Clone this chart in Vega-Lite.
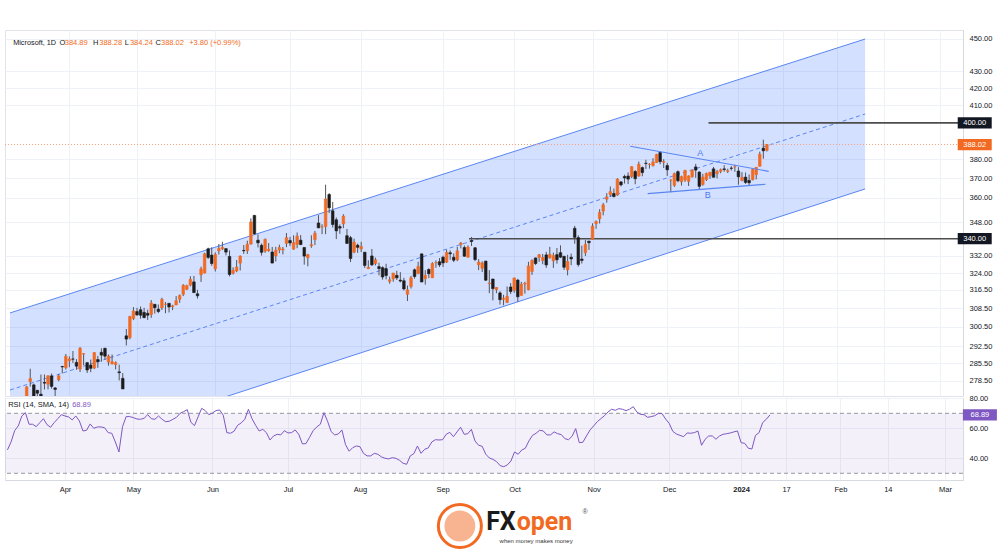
{
"$schema":"https://vega.github.io/schema/vega-lite/v6.json",
"padding":{"left":4,"top":29,"right":0,"bottom":0},
"background":"#ffffff",
"spacing":2,
"bounds":"flush",
"config":{"view":{"stroke":"#e0e3eb"},"axis":{"labelFont":"Liberation Sans","labelFontSize":7.5,"labelColor":"#131722","gridColor":"#eef1f7","domainColor":"#d6d9e0","ticks":false,"title":null,"labelOverlap":false,"labelFlush":false},"text":{"font":"Liberation Sans"}},
"datasets":{
"bars":[
{"d":"2023-03-10","o":251.08,"h":252.79,"l":247.6,"c":248.59,"r":45.6},
{"d":"2023-03-13","o":247.4,"h":257.91,"l":245.73,"c":253.92,"r":50.9},
{"d":"2023-03-14","o":256.75,"h":261.07,"l":255.86,"c":260.79,"r":58.4},
{"d":"2023-03-15","o":259.98,"h":266.48,"l":259.21,"c":265.44,"r":61.6},
{"d":"2023-03-16","o":265.21,"h":276.56,"l":263.28,"c":276.2,"r":68.2},
{"d":"2023-03-17","o":278.26,"h":283.33,"l":276.32,"c":279.43,"r":70.4},
{"d":"2023-03-20","o":276.98,"h":277.48,"l":269.85,"c":272.23,"r":62.7},
{"d":"2023-03-21","o":274.88,"h":275.0,"l":269.52,"c":273.78,"r":62.7},
{"d":"2023-03-22","o":273.4,"h":281.04,"l":272.18,"c":272.29,"r":61.1},
{"d":"2023-03-23","o":277.94,"h":281.06,"l":275.2,"c":277.66,"r":63.8},
{"d":"2023-03-24","o":277.24,"h":280.63,"l":275.28,"c":280.57,"r":66.4},
{"d":"2023-03-27","o":280.5,"h":281.46,"l":275.52,"c":276.38,"r":62.4},
{"d":"2023-03-28","o":275.79,"h":276.14,"l":272.05,"c":275.23,"r":60.7},
{"d":"2023-03-29","o":278.96,"h":281.14,"l":278.41,"c":280.51,"r":63.8},
{"d":"2023-03-30","o":284.23,"h":284.46,"l":281.48,"c":284.05,"r":66.4},
{"d":"2023-03-31","o":283.73,"h":289.27,"l":283.0,"c":288.3,"r":69.1},
{"d":"2023-04-03","o":286.52,"h":288.27,"l":283.95,"c":287.23,"r":68.2},
{"d":"2023-04-04","o":287.23,"h":290.45,"l":285.67,"c":287.18,"r":67.6},
{"d":"2023-04-05","o":285.85,"h":287.15,"l":282.92,"c":284.34,"r":65.6},
{"d":"2023-04-06","o":283.21,"h":292.08,"l":282.03,"c":291.6,"r":68.2},
{"d":"2023-04-10","o":289.21,"h":289.6,"l":284.71,"c":289.39,"r":64.9},
{"d":"2023-04-11","o":285.75,"h":285.98,"l":281.64,"c":282.83,"r":58.2},
{"d":"2023-04-12","o":284.79,"h":287.01,"l":281.96,"c":283.49,"r":58.7},
{"d":"2023-04-13","o":283.59,"h":289.9,"l":283.17,"c":289.84,"r":62.9},
{"d":"2023-04-14","o":287.0,"h":288.48,"l":283.69,"c":286.14,"r":60.0},
{"d":"2023-04-17","o":289.93,"h":291.6,"l":286.16,"c":288.8,"r":60.9},
{"d":"2023-04-18","o":291.57,"h":291.76,"l":287.01,"c":288.37,"r":60.9},
{"d":"2023-04-19","o":285.99,"h":289.05,"l":284.54,"c":288.45,"r":60.4},
{"d":"2023-04-20","o":285.25,"h":289.03,"l":285.08,"c":286.11,"r":57.1},
{"d":"2023-04-21","o":285.01,"h":286.27,"l":283.06,"c":285.76,"r":56.7},
{"d":"2023-04-24","o":282.09,"h":284.95,"l":278.72,"c":281.77,"r":50.9},
{"d":"2023-04-25","o":279.51,"h":281.6,"l":275.37,"c":275.42,"r":44.2},
{"d":"2023-04-26","o":296.7,"h":299.57,"l":292.73,"c":295.37,"r":61.1},
{"d":"2023-04-27","o":295.97,"h":305.2,"l":295.25,"c":304.83,"r":67.8},
{"d":"2023-04-28","o":304.01,"h":308.93,"l":303.31,"c":307.26,"r":67.8},
{"d":"2023-05-01","o":306.97,"h":308.6,"l":305.15,"c":305.56,"r":67.1},
{"d":"2023-05-02","o":307.76,"h":309.18,"l":303.91,"c":305.41,"r":66.2},
{"d":"2023-05-03","o":306.62,"h":308.61,"l":304.09,"c":304.4,"r":66.0},
{"d":"2023-05-04","o":306.24,"h":307.76,"l":303.4,"c":305.41,"r":66.7},
{"d":"2023-05-05","o":305.72,"h":311.97,"l":304.27,"c":310.65,"r":69.1},
{"d":"2023-05-08","o":310.13,"h":310.2,"l":306.09,"c":308.65,"r":66.4},
{"d":"2023-05-09","o":308.0,"h":310.04,"l":306.31,"c":307.0,"r":66.0},
{"d":"2023-05-10","o":308.62,"h":313.0,"l":307.67,"c":312.31,"r":68.2},
{"d":"2023-05-11","o":310.1,"h":311.12,"l":306.26,"c":310.11,"r":66.0},
{"d":"2023-05-12","o":310.55,"h":310.65,"l":306.6,"c":308.97,"r":64.4},
{"d":"2023-05-15","o":309.1,"h":309.9,"l":307.59,"c":309.46,"r":64.7},
{"d":"2023-05-16","o":309.83,"h":313.71,"l":309.83,"c":311.74,"r":66.0},
{"d":"2023-05-17","o":312.29,"h":314.43,"l":310.74,"c":314.0,"r":67.3},
{"d":"2023-05-18","o":314.53,"h":319.04,"l":313.72,"c":318.52,"r":70.0},
{"d":"2023-05-19","o":316.74,"h":318.75,"l":316.37,"c":318.34,"r":71.1},
{"d":"2023-05-22","o":318.6,"h":322.59,"l":318.01,"c":321.18,"r":72.4},
{"d":"2023-05-23","o":320.03,"h":322.72,"l":315.25,"c":315.26,"r":64.0},
{"d":"2023-05-24","o":314.73,"h":316.5,"l":312.61,"c":313.85,"r":61.8},
{"d":"2023-05-25","o":323.24,"h":326.9,"l":320.0,"c":325.92,"r":67.6},
{"d":"2023-05-26","o":324.02,"h":333.4,"l":323.88,"c":332.89,"r":73.3},
{"d":"2023-05-30","o":335.23,"h":335.74,"l":330.52,"c":331.21,"r":71.8},
{"d":"2023-05-31","o":332.29,"h":335.94,"l":327.33,"c":328.39,"r":69.1},
{"d":"2023-06-01","o":325.93,"h":333.53,"l":324.72,"c":332.58,"r":70.2},
{"d":"2023-06-02","o":334.25,"h":337.5,"l":332.55,"c":335.4,"r":71.8},
{"d":"2023-06-05","o":335.22,"h":338.56,"l":334.66,"c":335.94,"r":72.2},
{"d":"2023-06-06","o":335.33,"h":335.37,"l":332.17,"c":333.68,"r":68.7},
{"d":"2023-06-07","o":331.65,"h":334.49,"l":322.5,"c":323.38,"r":57.1},
{"d":"2023-06-08","o":323.94,"h":326.64,"l":323.35,"c":325.26,"r":56.7},
{"d":"2023-06-09","o":324.99,"h":329.99,"l":324.41,"c":326.79,"r":58.0},
{"d":"2023-06-12","o":328.58,"h":332.1,"l":325.16,"c":331.85,"r":62.0},
{"d":"2023-06-13","o":334.47,"h":336.99,"l":332.85,"c":334.29,"r":63.6},
{"d":"2023-06-14","o":334.34,"h":339.04,"l":332.81,"c":337.34,"r":66.0},
{"d":"2023-06-15","o":337.48,"h":349.84,"l":337.2,"c":348.1,"r":72.7},
{"d":"2023-06-16","o":351.32,"h":351.47,"l":341.95,"c":342.33,"r":66.4},
{"d":"2023-06-20","o":339.31,"h":342.08,"l":335.86,"c":338.05,"r":62.0},
{"d":"2023-06-21","o":336.88,"h":337.73,"l":332.07,"c":333.56,"r":58.2},
{"d":"2023-06-22","o":334.12,"h":340.12,"l":333.34,"c":339.71,"r":59.3},
{"d":"2023-06-23","o":334.36,"h":337.93,"l":333.81,"c":335.02,"r":57.1},
{"d":"2023-06-26","o":333.72,"h":336.11,"l":328.49,"c":328.6,"r":52.2},
{"d":"2023-06-27","o":331.86,"h":336.15,"l":329.3,"c":334.57,"r":54.9},
{"d":"2023-06-28","o":334.66,"h":337.2,"l":333.18,"c":335.85,"r":56.0},
{"d":"2023-06-29","o":334.71,"h":336.11,"l":332.62,"c":335.05,"r":55.6},
{"d":"2023-06-30","o":337.75,"h":342.73,"l":336.01,"c":340.54,"r":58.4},
{"d":"2023-07-03","o":339.19,"h":340.9,"l":336.57,"c":337.99,"r":56.9},
{"d":"2023-07-05","o":335.09,"h":341.65,"l":334.73,"c":338.15,"r":57.1},
{"d":"2023-07-06","o":337.3,"h":342.99,"l":335.5,"c":341.27,"r":58.9},
{"d":"2023-07-07","o":339.32,"h":341.79,"l":337.0,"c":337.22,"r":56.0},
{"d":"2023-07-10","o":335.86,"h":335.9,"l":327.87,"c":331.83,"r":49.6},
{"d":"2023-07-11","o":331.06,"h":332.85,"l":327.1,"c":332.47,"r":49.8},
{"d":"2023-07-12","o":336.6,"h":341.65,"l":335.67,"c":337.2,"r":54.0},
{"d":"2023-07-13","o":339.56,"h":343.74,"l":337.0,"c":342.66,"r":58.4},
{"d":"2023-07-14","o":347.59,"h":351.43,"l":345.09,"c":345.24,"r":60.9},
{"d":"2023-07-17","o":345.68,"h":346.99,"l":342.2,"c":345.73,"r":62.7},
{"d":"2023-07-18","o":345.83,"h":366.78,"l":342.17,"c":359.49,"r":70.4},
{"d":"2023-07-19","o":361.75,"h":362.46,"l":352.44,"c":355.08,"r":64.7},
{"d":"2023-07-20","o":353.57,"h":357.97,"l":345.37,"c":346.87,"r":57.8},
{"d":"2023-07-21","o":349.15,"h":350.3,"l":339.83,"c":343.77,"r":55.6},
{"d":"2023-07-24","o":345.85,"h":346.92,"l":342.31,"c":345.11,"r":56.2},
{"d":"2023-07-25","o":347.11,"h":351.89,"l":345.07,"c":350.98,"r":58.9},
{"d":"2023-07-26","o":341.44,"h":344.67,"l":337.58,"c":337.77,"r":49.1},
{"d":"2023-07-27","o":340.48,"h":341.33,"l":329.05,"c":330.72,"r":44.7},
{"d":"2023-07-28","o":333.67,"h":340.01,"l":333.17,"c":338.37,"r":47.1},
{"d":"2023-07-31","o":336.92,"h":337.7,"l":333.36,"c":335.92,"r":48.2},
{"d":"2023-08-01","o":335.19,"h":338.54,"l":333.7,"c":336.34,"r":47.8},
{"d":"2023-08-02","o":333.63,"h":333.63,"l":326.36,"c":327.5,"r":43.3},
{"d":"2023-08-03","o":326.0,"h":329.88,"l":325.95,"c":326.66,"r":41.6},
{"d":"2023-08-04","o":331.88,"h":335.14,"l":327.24,"c":327.78,"r":41.6},
{"d":"2023-08-07","o":328.37,"h":331.11,"l":327.52,"c":330.11,"r":43.3},
{"d":"2023-08-08","o":326.96,"h":328.75,"l":323.0,"c":326.05,"r":42.7},
{"d":"2023-08-09","o":326.47,"h":327.11,"l":321.05,"c":322.23,"r":40.9},
{"d":"2023-08-10","o":326.02,"h":328.26,"l":321.18,"c":322.93,"r":40.0},
{"d":"2023-08-11","o":320.26,"h":322.41,"l":319.21,"c":321.01,"r":39.6},
{"d":"2023-08-14","o":321.39,"h":324.06,"l":320.08,"c":324.04,"r":40.4},
{"d":"2023-08-15","o":323.0,"h":325.09,"l":320.9,"c":321.86,"r":40.0},
{"d":"2023-08-16","o":320.8,"h":324.42,"l":319.8,"c":320.4,"r":38.7},
{"d":"2023-08-17","o":320.54,"h":321.87,"l":316.21,"c":316.88,"r":36.7},
{"d":"2023-08-18","o":314.49,"h":318.38,"l":311.55,"c":316.48,"r":36.0},
{"d":"2023-08-21","o":317.93,"h":322.77,"l":317.04,"c":321.88,"r":41.6},
{"d":"2023-08-22","o":325.5,"h":326.07,"l":321.46,"c":322.46,"r":43.1},
{"d":"2023-08-23","o":323.82,"h":329.2,"l":323.46,"c":327.0,"r":48.2},
{"d":"2023-08-24","o":332.85,"h":332.98,"l":319.96,"c":319.97,"r":43.3},
{"d":"2023-08-25","o":321.47,"h":325.36,"l":318.8,"c":322.98,"r":46.0},
{"d":"2023-08-28","o":325.66,"h":326.15,"l":321.72,"c":323.7,"r":46.9},
{"d":"2023-08-29","o":321.88,"h":328.98,"l":321.88,"c":328.41,"r":50.9},
{"d":"2023-08-30","o":328.67,"h":329.81,"l":326.45,"c":328.79,"r":52.4},
{"d":"2023-08-31","o":329.2,"h":330.91,"l":326.78,"c":327.76,"r":52.2},
{"d":"2023-09-01","o":331.31,"h":331.99,"l":326.78,"c":328.66,"r":52.4},
{"d":"2023-09-05","o":329.0,"h":334.85,"l":328.66,"c":333.55,"r":56.0},
{"d":"2023-09-06","o":333.38,"h":334.46,"l":330.18,"c":332.88,"r":57.3},
{"d":"2023-09-07","o":331.29,"h":333.08,"l":329.03,"c":329.91,"r":54.4},
{"d":"2023-09-08","o":330.09,"h":336.16,"l":329.46,"c":334.27,"r":57.6},
{"d":"2023-09-11","o":337.24,"h":338.42,"l":335.43,"c":337.94,"r":60.7},
{"d":"2023-09-12","o":335.82,"h":336.79,"l":331.48,"c":331.77,"r":56.0},
{"d":"2023-09-13","o":331.31,"h":336.85,"l":331.17,"c":336.06,"r":56.4},
{"d":"2023-09-14","o":339.15,"h":340.86,"l":336.57,"c":338.7,"r":59.3},
{"d":"2023-09-15","o":335.7,"h":336.12,"l":329.46,"c":330.22,"r":51.6},
{"d":"2023-09-18","o":327.8,"h":330.4,"l":325.36,"c":329.06,"r":48.7},
{"d":"2023-09-19","o":326.17,"h":329.39,"l":324.51,"c":328.65,"r":48.0},
{"d":"2023-09-20","o":329.51,"h":329.59,"l":320.51,"c":320.77,"r":42.7},
{"d":"2023-09-21","o":319.26,"h":325.35,"l":315.0,"c":319.53,"r":40.2},
{"d":"2023-09-22","o":321.32,"h":321.45,"l":311.86,"c":317.01,"r":39.3},
{"d":"2023-09-25","o":316.59,"h":317.67,"l":315.0,"c":317.54,"r":37.8},
{"d":"2023-09-26","o":315.13,"h":315.88,"l":310.02,"c":312.14,"r":35.1},
{"d":"2023-09-27","o":312.3,"h":314.3,"l":309.69,"c":312.79,"r":34.4},
{"d":"2023-09-28","o":310.99,"h":317.99,"l":310.64,"c":313.64,"r":35.6},
{"d":"2023-09-29","o":317.75,"h":319.47,"l":314.61,"c":315.75,"r":38.2},
{"d":"2023-10-02","o":316.28,"h":321.89,"l":315.18,"c":321.8,"r":44.2},
{"d":"2023-10-03","o":320.83,"h":321.39,"l":311.21,"c":313.39,"r":42.7},
{"d":"2023-10-04","o":314.03,"h":320.04,"l":314.0,"c":318.96,"r":45.5},
{"d":"2023-10-05","o":319.09,"h":320.08,"l":314.79,"c":319.36,"r":46.7},
{"d":"2023-10-06","o":316.55,"h":329.19,"l":316.3,"c":327.26,"r":51.6},
{"d":"2023-10-09","o":324.75,"h":330.3,"l":323.18,"c":329.82,"r":55.3},
{"d":"2023-10-10","o":330.96,"h":331.1,"l":327.67,"c":328.39,"r":56.7},
{"d":"2023-10-11","o":331.21,"h":332.82,"l":329.14,"c":332.42,"r":58.7},
{"d":"2023-10-12","o":329.74,"h":332.83,"l":328.03,"c":331.16,"r":58.2},
{"d":"2023-10-13","o":332.38,"h":333.83,"l":326.36,"c":327.73,"r":55.6},
{"d":"2023-10-16","o":331.05,"h":336.14,"l":330.6,"c":332.64,"r":55.6},
{"d":"2023-10-17","o":329.59,"h":333.46,"l":326.36,"c":332.06,"r":57.6},
{"d":"2023-10-18","o":332.49,"h":335.59,"l":328.3,"c":330.11,"r":56.4},
{"d":"2023-10-19","o":333.41,"h":336.88,"l":330.91,"c":331.32,"r":55.8},
{"d":"2023-10-20","o":331.72,"h":331.92,"l":325.45,"c":326.67,"r":53.1},
{"d":"2023-10-23","o":325.47,"h":332.45,"l":322.95,"c":329.32,"r":52.4},
{"d":"2023-10-24","o":331.3,"h":332.99,"l":327.61,"c":330.53,"r":54.7},
{"d":"2023-10-25","o":345.02,"h":346.2,"l":337.62,"c":340.67,"r":59.8},
{"d":"2023-10-26","o":340.54,"h":341.63,"l":326.94,"c":327.89,"r":50.4},
{"d":"2023-10-27","o":330.43,"h":336.72,"l":328.4,"c":329.81,"r":50.7},
{"d":"2023-10-30","o":333.41,"h":339.45,"l":331.83,"c":337.31,"r":54.9},
{"d":"2023-10-31","o":338.85,"h":339.0,"l":334.69,"c":338.11,"r":58.9},
{"d":"2023-11-01","o":339.79,"h":347.42,"l":339.65,"c":346.07,"r":61.6},
{"d":"2023-11-02","o":347.24,"h":348.83,"l":344.77,"c":348.32,"r":64.4},
{"d":"2023-11-03","o":349.63,"h":354.39,"l":347.33,"c":352.8,"r":66.4},
{"d":"2023-11-06","o":353.45,"h":357.54,"l":351.35,"c":356.53,"r":68.4},
{"d":"2023-11-07","o":359.4,"h":362.46,"l":357.63,"c":360.53,"r":70.9},
{"d":"2023-11-08","o":361.68,"h":365.87,"l":360.55,"c":363.2,"r":72.7},
{"d":"2023-11-09","o":362.3,"h":364.79,"l":360.36,"c":360.69,"r":72.0},
{"d":"2023-11-10","o":361.49,"h":370.1,"l":361.07,"c":369.67,"r":73.1},
{"d":"2023-11-13","o":368.22,"h":368.47,"l":365.9,"c":366.68,"r":72.7},
{"d":"2023-11-14","o":371.01,"h":371.95,"l":367.35,"c":370.27,"r":71.8},
{"d":"2023-11-15","o":371.28,"h":373.13,"l":367.11,"c":369.67,"r":72.7},
{"d":"2023-11-16","o":370.96,"h":376.35,"l":370.18,"c":376.17,"r":74.4},
{"d":"2023-11-17","o":373.61,"h":374.37,"l":367.0,"c":369.85,"r":70.9},
{"d":"2023-11-20","o":371.22,"h":378.87,"l":371.0,"c":377.44,"r":69.3},
{"d":"2023-11-21","o":375.67,"h":376.22,"l":371.12,"c":373.07,"r":69.1},
{"d":"2023-11-22","o":378.0,"h":379.79,"l":374.97,"c":377.85,"r":67.3},
{"d":"2023-11-24","o":377.33,"h":377.97,"l":375.14,"c":377.43,"r":67.8},
{"d":"2023-11-27","o":376.78,"h":380.64,"l":376.2,"c":378.61,"r":68.4},
{"d":"2023-11-28","o":378.35,"h":383.0,"l":378.16,"c":382.7,"r":70.0},
{"d":"2023-11-29","o":383.76,"h":384.3,"l":377.44,"c":378.85,"r":69.8},
{"d":"2023-11-30","o":378.49,"h":380.09,"l":375.47,"c":378.91,"r":66.2},
{"d":"2023-12-01","o":376.76,"h":378.16,"l":371.31,"c":374.51,"r":63.3},
{"d":"2023-12-04","o":369.1,"h":369.52,"l":362.9,"c":369.14,"r":58.0},
{"d":"2023-12-05","o":366.45,"h":373.07,"l":365.62,"c":372.52,"r":56.2},
{"d":"2023-12-06","o":373.54,"h":374.18,"l":368.03,"c":368.8,"r":55.3},
{"d":"2023-12-07","o":368.23,"h":371.45,"l":366.32,"c":370.95,"r":54.4},
{"d":"2023-12-08","o":369.2,"h":374.46,"l":368.23,"c":374.23,"r":56.9},
{"d":"2023-12-11","o":368.48,"h":371.6,"l":366.1,"c":371.3,"r":56.7},
{"d":"2023-12-12","o":370.85,"h":374.42,"l":370.46,"c":374.38,"r":57.1},
{"d":"2023-12-13","o":376.02,"h":377.64,"l":370.33,"c":374.37,"r":58.2},
{"d":"2023-12-14","o":373.31,"h":373.76,"l":364.13,"c":365.93,"r":48.7},
{"d":"2023-12-15","o":366.85,"h":372.4,"l":366.28,"c":370.73,"r":52.7},
{"d":"2023-12-18","o":369.45,"h":373.0,"l":368.68,"c":372.65,"r":54.9},
{"d":"2023-12-19","o":371.49,"h":373.26,"l":369.84,"c":373.26,"r":54.9},
{"d":"2023-12-20","o":375.0,"h":376.03,"l":370.53,"c":370.62,"r":52.7},
{"d":"2023-12-21","o":372.56,"h":374.41,"l":370.04,"c":373.54,"r":54.9},
{"d":"2023-12-22","o":373.68,"h":375.18,"l":372.71,"c":374.58,"r":56.0},
{"d":"2023-12-26","o":375.0,"h":376.94,"l":373.5,"c":374.66,"r":56.4},
{"d":"2023-12-27","o":373.69,"h":375.06,"l":372.81,"c":374.07,"r":56.9},
{"d":"2023-12-28","o":375.37,"h":376.46,"l":374.16,"c":375.28,"r":57.6},
{"d":"2023-12-29","o":376.0,"h":377.16,"l":373.48,"c":376.04,"r":58.2},
{"d":"2024-01-02","o":373.86,"h":375.9,"l":366.77,"c":370.87,"r":50.4},
{"d":"2024-01-03","o":369.01,"h":373.26,"l":368.51,"c":370.6,"r":50.0},
{"d":"2024-01-04","o":370.67,"h":373.1,"l":367.17,"c":367.94,"r":46.7},
{"d":"2024-01-05","o":368.97,"h":372.06,"l":366.5,"c":367.75,"r":46.2},
{"d":"2024-01-08","o":369.3,"h":375.2,"l":369.01,"c":374.69,"r":55.3},
{"d":"2024-01-09","o":372.01,"h":375.99,"l":369.5,"c":375.79,"r":57.1},
{"d":"2024-01-10","o":376.37,"h":384.17,"l":376.32,"c":382.77,"r":63.8},
{"d":"2024-01-11","o":386.0,"h":390.68,"l":380.38,"c":384.63,"r":66.0},
{"d":"2024-01-12","o":384.89,"h":388.28,"l":384.24,"c":388.02,"r":68.89}
],
"chan":[{"n":0.315,"up":306.4,"lo":246.9,"mid":275.0},{"n":240.6,"up":449.9,"lo":364.6,"mid":405.0}],
"tri":[{"k":"A","n":174.6,"p":387.1},{"k":"A","n":213.5,"p":373.7},{"k":"B","n":179.5,"p":362.2},{"k":"B","n":212.6,"p":367.0}],
"lv":[{"p":400,"n0":196.6},{"p":340,"n0":129.3}],
"tags":[{"v":400,"t":"400.00","kind":"level"},{"v":388.02,"t":"388.02","kind":"last"},{"v":340,"t":"340.00","kind":"level"}]
},
"vconcat":[
{
"width":958,"height":366,
"resolve":{"axis":{"x":"independent","y":"independent"}},
"layer":[
{"data":{"name":"chan"},"mark":{"type":"area","color":"#2962ff","opacity":0.2,"clip":true},
 "encoding":{
  "x":{"field":"n","type":"quantitative","scale":{"domain":[0.315,266.7],"nice":false,"zero":false},"axis":{"values":[17,36,58,79,99,122,142,164,185,205,217.5,232.6,245.8,261.7],"labels":false,"domain":false,"grid":true,"labelPadding":0,"minExtent":0,"maxExtent":0,"offset":0}},
  "y":{"field":"up","type":"quantitative","scale":{"type":"log","domain":[272.7,455.64],"nice":false},"axis":{"orient":"right","values":[278.5,285.5,292.5,300.5,308.5,316.5,324,332,348,360,370,380,410,420,430,450],"format":".2f","labelPadding":6,"grid":true,"domain":true}},
  "y2":{"field":"lo"}}},
{"data":{"name":"chan"},"mark":{"type":"line","color":"#5a86f2","strokeWidth":1,"clip":true},
 "encoding":{"x":{"field":"n","type":"quantitative","scale":{"domain":[0.315,266.7],"nice":false,"zero":false},"axis":null},
  "y":{"field":"up","type":"quantitative","scale":{"type":"log","domain":[272.7,455.64],"nice":false},"axis":null}}},
{"data":{"name":"chan"},"mark":{"type":"line","color":"#5a86f2","strokeWidth":1,"clip":true},
 "encoding":{"x":{"field":"n","type":"quantitative","scale":{"domain":[0.315,266.7],"nice":false,"zero":false},"axis":null},
  "y":{"field":"lo","type":"quantitative","scale":{"type":"log","domain":[272.7,455.64],"nice":false},"axis":null}}},
{"data":{"name":"chan"},"mark":{"type":"line","color":"#5a86f2","strokeWidth":1,"strokeDash":[4,3],"clip":true},
 "encoding":{"x":{"field":"n","type":"quantitative","scale":{"domain":[0.315,266.7],"nice":false,"zero":false},"axis":null},
  "y":{"field":"mid","type":"quantitative","scale":{"type":"log","domain":[272.7,455.64],"nice":false},"axis":null}}},
{"data":{"values":[{}]},"mark":{"type":"rule","color":"#f5a27a","strokeWidth":1,"strokeDash":[1,2]},
 "encoding":{"y":{"datum":388.02,"type":"quantitative","scale":{"type":"log","domain":[272.7,455.64],"nice":false},"axis":null}}},
{"data":{"name":"lv"},"mark":{"type":"rule","color":"#4d4d4d","strokeWidth":1.6},
 "encoding":{"x":{"field":"n0","type":"quantitative","scale":{"domain":[0.315,266.7],"nice":false,"zero":false},"axis":null},"x2":{"datum":266.7},
  "y":{"field":"p","type":"quantitative","scale":{"type":"log","domain":[272.7,455.64],"nice":false},"axis":null}}},
{"data":{"name":"bars"},"transform":[{"window":[{"op":"row_number","as":"n"}],"sort":[{"field":"d"}]}],
 "mark":{"type":"rule","color":"#555555","strokeWidth":1,"clip":true},
 "encoding":{"x":{"field":"n","type":"quantitative","scale":{"domain":[0.315,266.7],"nice":false,"zero":false},"axis":null},
  "y":{"field":"l","type":"quantitative","scale":{"type":"log","domain":[272.7,455.64],"nice":false},"axis":null},"y2":{"field":"h"}}},
{"data":{"name":"bars"},"transform":[{"window":[{"op":"row_number","as":"n"}],"sort":[{"field":"d"}]}],
 "mark":{"type":"bar","width":2.6,"strokeWidth":0.6,"clip":true},
 "encoding":{"x":{"field":"n","type":"quantitative","scale":{"domain":[0.315,266.7],"nice":false,"zero":false},"axis":null},
  "y":{"field":"o","type":"quantitative","scale":{"type":"log","domain":[272.7,455.64],"nice":false},"axis":null},"y2":{"field":"c"},
  "color":{"condition":{"test":"datum.c>=datum.o","value":"#f26a21"},"value":"#1c1c1c"},
  "stroke":{"condition":{"test":"datum.c>=datum.o","value":"#f26a21"},"value":"#1c1c1c"}}},
{"data":{"name":"tri"},"mark":{"type":"line","color":"#5a86f2","strokeWidth":1.2},
 "encoding":{"x":{"field":"n","type":"quantitative","scale":{"domain":[0.315,266.7],"nice":false,"zero":false},"axis":null},
  "y":{"field":"p","type":"quantitative","scale":{"type":"log","domain":[272.7,455.64],"nice":false},"axis":null},"detail":{"field":"k"}}},
{"data":{"values":[{}]},"mark":{"type":"text","text":"A","color":"#4a78ee","fontSize":9,"align":"center","baseline":"middle"},
 "encoding":{"x":{"datum":194.3,"type":"quantitative","scale":{"domain":[0.315,266.7],"nice":false,"zero":false},"axis":null},"y":{"datum":383.4,"type":"quantitative","scale":{"type":"log","domain":[272.7,455.64],"nice":false},"axis":null}}},
{"data":{"values":[{}]},"mark":{"type":"text","text":"B","color":"#4a78ee","fontSize":9,"align":"center","baseline":"middle"},
 "encoding":{"x":{"datum":196.4,"type":"quantitative","scale":{"domain":[0.315,266.7],"nice":false,"zero":false},"axis":null},"y":{"datum":361.4,"type":"quantitative","scale":{"type":"log","domain":[272.7,455.64],"nice":false},"axis":null}}},
{"data":{"values":[{}]},"mark":{"type":"text","text":"Microsoft, 1D","color":"#131722","fontSize":7.3,"align":"left","baseline":"middle"},
 "encoding":{"x":{"datum":1.2,"type":"quantitative","scale":{"domain":[0.315,266.7],"nice":false,"zero":false},"axis":null},"y":{"datum":447.4,"type":"quantitative","scale":{"type":"log","domain":[272.7,455.64],"nice":false},"axis":null}}},
{"data":{"values":[{}]},"mark":{"type":"text","text":"O","color":"#131722","fontSize":7.5,"align":"left","baseline":"middle"},
 "encoding":{"x":{"datum":14.2,"type":"quantitative","scale":{"domain":[0.315,266.7],"nice":false,"zero":false},"axis":null},"y":{"datum":447.4,"type":"quantitative","scale":{"type":"log","domain":[272.7,455.64],"nice":false},"axis":null}}},
{"data":{"values":[{}]},"mark":{"type":"text","text":"384.89","color":"#f26a21","fontSize":7.5,"align":"left","baseline":"middle"},
 "encoding":{"x":{"datum":15.7,"type":"quantitative","scale":{"domain":[0.315,266.7],"nice":false,"zero":false},"axis":null},"y":{"datum":447.4,"type":"quantitative","scale":{"type":"log","domain":[272.7,455.64],"nice":false},"axis":null}}},
{"data":{"values":[{}]},"mark":{"type":"text","text":"H","color":"#131722","fontSize":7.5,"align":"left","baseline":"middle"},
 "encoding":{"x":{"datum":23.67,"type":"quantitative","scale":{"domain":[0.315,266.7],"nice":false,"zero":false},"axis":null},"y":{"datum":447.4,"type":"quantitative","scale":{"type":"log","domain":[272.7,455.64],"nice":false},"axis":null}}},
{"data":{"values":[{}]},"mark":{"type":"text","text":"388.28","color":"#f26a21","fontSize":7.5,"align":"left","baseline":"middle"},
 "encoding":{"x":{"datum":25.4,"type":"quantitative","scale":{"domain":[0.315,266.7],"nice":false,"zero":false},"axis":null},"y":{"datum":447.4,"type":"quantitative","scale":{"type":"log","domain":[272.7,455.64],"nice":false},"axis":null}}},
{"data":{"values":[{}]},"mark":{"type":"text","text":"L","color":"#131722","fontSize":7.5,"align":"left","baseline":"middle"},
 "encoding":{"x":{"datum":32.57,"type":"quantitative","scale":{"domain":[0.315,266.7],"nice":false,"zero":false},"axis":null},"y":{"datum":447.4,"type":"quantitative","scale":{"type":"log","domain":[272.7,455.64],"nice":false},"axis":null}}},
{"data":{"values":[{}]},"mark":{"type":"text","text":"384.24","color":"#f26a21","fontSize":7.5,"align":"left","baseline":"middle"},
 "encoding":{"x":{"datum":34.0,"type":"quantitative","scale":{"domain":[0.315,266.7],"nice":false,"zero":false},"axis":null},"y":{"datum":447.4,"type":"quantitative","scale":{"type":"log","domain":[272.7,455.64],"nice":false},"axis":null}}},
{"data":{"values":[{}]},"mark":{"type":"text","text":"C","color":"#131722","fontSize":7.5,"align":"left","baseline":"middle"},
 "encoding":{"x":{"datum":41.19,"type":"quantitative","scale":{"domain":[0.315,266.7],"nice":false,"zero":false},"axis":null},"y":{"datum":447.4,"type":"quantitative","scale":{"type":"log","domain":[272.7,455.64],"nice":false},"axis":null}}},
{"data":{"values":[{}]},"mark":{"type":"text","text":"388.02","color":"#f26a21","fontSize":7.5,"align":"left","baseline":"middle"},
 "encoding":{"x":{"datum":42.75,"type":"quantitative","scale":{"domain":[0.315,266.7],"nice":false,"zero":false},"axis":null},"y":{"datum":447.4,"type":"quantitative","scale":{"type":"log","domain":[272.7,455.64],"nice":false},"axis":null}}},
{"data":{"values":[{}]},"mark":{"type":"text","text":"+3.80 (+0.99%)","color":"#f26a21","fontSize":7.5,"align":"left","baseline":"middle"},
 "encoding":{"x":{"datum":50.65,"type":"quantitative","scale":{"domain":[0.315,266.7],"nice":false,"zero":false},"axis":null},"y":{"datum":447.4,"type":"quantitative","scale":{"type":"log","domain":[272.7,455.64],"nice":false},"axis":null}}},
{"data":{"name":"tags"},"mark":{"type":"point","shape":"M-1,-0.33H1V0.33H-1Z","size":1156,"filled":true,"opacity":1,"clip":false},
 "encoding":{"x":{"datum":271.4,"type":"quantitative","scale":{"domain":[0.315,266.7],"nice":false,"zero":false},"axis":null},
  "y":{"field":"v","type":"quantitative","scale":{"type":"log","domain":[272.7,455.64],"nice":false},"axis":null},
  "color":{"field":"kind","type":"nominal","scale":{"domain":["level","last"],"range":["#131722","#f26a21"]},"legend":null}}},
{"data":{"name":"tags"},"mark":{"type":"text","color":"#ffffff","fontSize":7.5,"align":"center","baseline":"middle","clip":false},
 "encoding":{"x":{"datum":271.4,"type":"quantitative","scale":{"domain":[0.315,266.7],"nice":false,"zero":false},"axis":null},
  "y":{"field":"v","type":"quantitative","scale":{"type":"log","domain":[272.7,455.64],"nice":false},"axis":null},"text":{"field":"t"}}}
]
},
{
"width":958,"height":82,
"resolve":{"axis":{"x":"independent","y":"independent"}},
"layer":[
{"data":{"values":[{}]},"mark":{"type":"rect","color":"#7e57c2","opacity":0.09},
 "encoding":{"x":{"datum":0.315,"type":"quantitative","scale":{"domain":[0.315,266.7],"nice":false,"zero":false},"axis":null},"x2":{"datum":266.7},
  "y":{"datum":70,"type":"quantitative","scale":{"domain":[25.53,80.2],"nice":false,"zero":false},"axis":null},"y2":{"datum":30}}},
{"data":{"values":[{"v":70},{"v":30}]},"mark":{"type":"rule","color":"#9598a1","strokeWidth":1,"strokeDash":[4,3]},
 "encoding":{"y":{"field":"v","type":"quantitative","scale":{"domain":[25.53,80.2],"nice":false,"zero":false},"axis":null}}},
{"data":{"name":"bars"},"transform":[{"window":[{"op":"row_number","as":"n"}],"sort":[{"field":"d"}]}],
 "mark":{"type":"line","color":"#7e57c2","strokeWidth":1,"clip":true},
 "encoding":{"x":{"field":"n","type":"quantitative","scale":{"domain":[0.315,266.7],"nice":false,"zero":false},
   "axis":{"values":[17,36,58,79,99,122,142,164,185,205,217.5,232.6,245.8,261.7],"grid":true,"domain":true,"labelPadding":5,
    "labelExpr":"datum.value==17?'Apr':datum.value==36?'May':datum.value==58?'Jun':datum.value==79?'Jul':datum.value==99?'Aug':datum.value==122?'Sep':datum.value==142?'Oct':datum.value==164?'Nov':datum.value==185?'Dec':datum.value==205?'2024':datum.value==217.5?'17':datum.value==232.6?'Feb':datum.value==245.8?'14':'Mar'",
    "labelFontWeight":{"condition":{"test":"datum.value==205","value":"bold"},"value":"normal"}}},
  "y":{"field":"r","type":"quantitative","scale":{"domain":[25.53,80.2],"nice":false,"zero":false},"axis":{"orient":"right","values":[40,60,80],"format":".2f","labelPadding":6,"grid":true,"domain":true}}}},
{"data":{"values":[{}]},"mark":{"type":"text","text":"RSI (14, SMA, 14)","color":"#131722","fontSize":7.5,"align":"left","baseline":"middle"},
 "encoding":{"x":{"datum":1.2,"type":"quantitative","scale":{"domain":[0.315,266.7],"nice":false,"zero":false},"axis":null},"y":{"datum":75.3,"type":"quantitative","scale":{"domain":[25.53,80.2],"nice":false,"zero":false},"axis":null}}},
{"data":{"values":[{}]},"mark":{"type":"text","text":"68.89","color":"#7e57c2","fontSize":7.5,"align":"left","baseline":"middle"},
 "encoding":{"x":{"datum":19.0,"type":"quantitative","scale":{"domain":[0.315,266.7],"nice":false,"zero":false},"axis":null},"y":{"datum":75.3,"type":"quantitative","scale":{"domain":[25.53,80.2],"nice":false,"zero":false},"axis":null}}},
{"data":{"values":[{}]},"mark":{"type":"point","shape":"M-1,-0.33H1V0.33H-1Z","size":1156,"filled":true,"opacity":1,"color":"#7e57c2","clip":false},
 "encoding":{"x":{"datum":271.4,"type":"quantitative","scale":{"domain":[0.315,266.7],"nice":false,"zero":false},"axis":null},"y":{"datum":68.89,"type":"quantitative","scale":{"domain":[25.53,80.2],"nice":false,"zero":false},"axis":null}}},
{"data":{"values":[{}]},"mark":{"type":"text","text":"68.89","color":"#ffffff","fontSize":7.5,"align":"center","baseline":"middle","clip":false},
 "encoding":{"x":{"datum":271.4,"type":"quantitative","scale":{"domain":[0.315,266.7],"nice":false,"zero":false},"axis":null},"y":{"datum":68.89,"type":"quantitative","scale":{"domain":[25.53,80.2],"nice":false,"zero":false},"axis":null}}},
{"data":{"values":[{}]},"mark":{"type":"point","shape":"circle","size":1850,"filled":false,"stroke":"#f26a21","strokeWidth":3,"opacity":1,"clip":false},
 "encoding":{"x":{"datum":126.8,"type":"quantitative","scale":{"domain":[0.315,266.7],"nice":false,"zero":false},"axis":null},"y":{"datum":-5.13,"type":"quantitative","scale":{"domain":[25.53,80.2],"nice":false,"zero":false},"axis":null}}},
{"data":{"values":[{}]},"mark":{"type":"point","shape":"circle","size":950,"filled":true,"color":"#f26a21","opacity":0.5,"clip":false},
 "encoding":{"x":{"datum":126.8,"type":"quantitative","scale":{"domain":[0.315,266.7],"nice":false,"zero":false},"axis":null},"y":{"datum":-5.13,"type":"quantitative","scale":{"domain":[25.53,80.2],"nice":false,"zero":false},"axis":null}}},
{"data":{"values":[{}]},"mark":{"type":"text","text":"FX","color":"#1a1a1a","font":"Roboto","fontSize":25,"fontWeight":"bold","align":"left","baseline":"middle","clip":false},
 "encoding":{"x":{"datum":134.1,"type":"quantitative","scale":{"domain":[0.315,266.7],"nice":false,"zero":false},"axis":null},"y":{"datum":-2.5,"type":"quantitative","scale":{"domain":[25.53,80.2],"nice":false,"zero":false},"axis":null}}},
{"data":{"values":[{}]},"mark":{"type":"text","text":"open","color":"#f26a21","font":"Roboto","fontSize":25,"fontWeight":"bold","align":"left","baseline":"middle","clip":false},
 "encoding":{"x":{"datum":142.6,"type":"quantitative","scale":{"domain":[0.315,266.7],"nice":false,"zero":false},"axis":null},"y":{"datum":-2.5,"type":"quantitative","scale":{"domain":[25.53,80.2],"nice":false,"zero":false},"axis":null}}},
{"data":{"values":[{}]},"mark":{"type":"text","text":"®","color":"#555555","fontSize":7,"align":"center","baseline":"middle","clip":false},
 "encoding":{"x":{"datum":161.6,"type":"quantitative","scale":{"domain":[0.315,266.7],"nice":false,"zero":false},"axis":null},"y":{"datum":4.5,"type":"quantitative","scale":{"domain":[25.53,80.2],"nice":false,"zero":false},"axis":null}}},
{"data":{"values":[{}]},"mark":{"type":"text","text":"when money  makes money","color":"#333333","fontSize":6,"align":"center","baseline":"middle","clip":false},
 "encoding":{"x":{"datum":148.0,"type":"quantitative","scale":{"domain":[0.315,266.7],"nice":false,"zero":false},"axis":null},"y":{"datum":-15.4,"type":"quantitative","scale":{"domain":[25.53,80.2],"nice":false,"zero":false},"axis":null}}}
]
}
]
}
